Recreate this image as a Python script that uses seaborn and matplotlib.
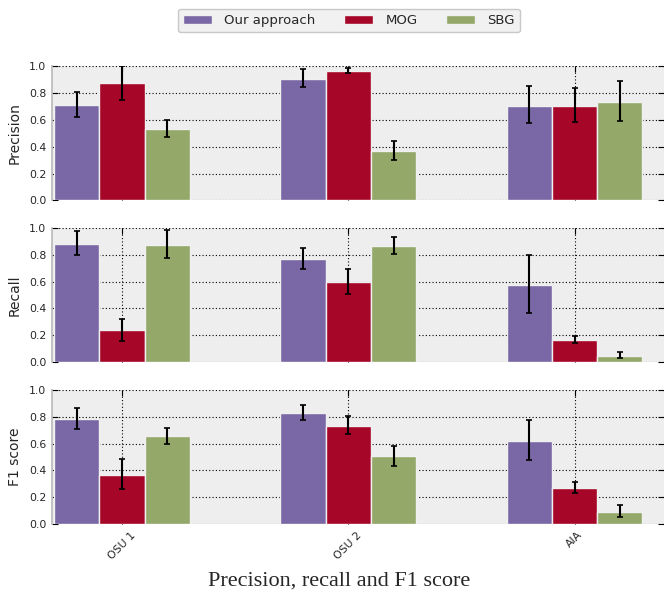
import pandas as pd
import seaborn as sns
import matplotlib.pyplot as plt
import numpy as np

datasets = ['OSU 1', 'OSU 2', 'AIA']
methods = ['Our approach', 'MOG', 'SBG']
metrics = ['Precision', 'Recall', 'F1 score']
colors = ['#7A68A6', '#A60628', '#94A869']

# mean values per metric -> method -> dataset
precision = {'Our approach': [0.71, 0.90, 0.705], 'MOG': [0.87, 0.96, 0.705], 'SBG': [0.527, 0.364, 0.73]}
recall = {'Our approach': [0.88, 0.765, 0.575], 'MOG': [0.237, 0.598, 0.163], 'SBG': [0.872, 0.862, 0.047]}
f1 = {'Our approach': [0.78, 0.827, 0.621], 'MOG': [0.366, 0.733, 0.27], 'SBG': [0.653, 0.507, 0.094]}

# error bar bounds (low, high)
precision_lo = {'Our approach': [0.621, 0.839, 0.572], 'MOG': [0.743, 0.943, 0.584], 'SBG': [0.47, 0.297, 0.587]}
precision_hi = {'Our approach': [0.807, 0.973, 0.847], 'MOG': [1.0, 0.985, 0.837], 'SBG': [0.594, 0.438, 0.886]}
recall_lo = {'Our approach': [0.795, 0.69, 0.37], 'MOG': [0.158, 0.51, 0.143], 'SBG': [0.773, 0.805, 0.032]}
recall_hi = {'Our approach': [0.975, 0.85, 0.795], 'MOG': [0.323, 0.69, 0.195], 'SBG': [0.98, 0.928, 0.077]}
f1_lo = {'Our approach': [0.705, 0.775, 0.478], 'MOG': [0.262, 0.668, 0.23], 'SBG': [0.597, 0.436, 0.054]}
f1_hi = {'Our approach': [0.861, 0.889, 0.772], 'MOG': [0.483, 0.807, 0.317], 'SBG': [0.718, 0.584, 0.144]}

panels = [(precision, precision_lo, precision_hi),
          (recall, recall_lo, recall_hi),
          (f1, f1_lo, f1_hi)]

sns.set_theme(style="white")
plt.rcParams['font.family'] = ['DejaVu Sans']

fig = plt.figure(figsize=(6.64, 5.93), dpi=100)
bottoms = [0.662, 0.389, 0.1158]
axes = []
for i, (vals, lo, hi) in enumerate(panels):
    ax = fig.add_axes([0.078, bottoms[i], 0.922, 0.227])
    axes.append(ax)
    df = pd.DataFrame([(d, m, vals[m][j]) for m in methods for j, d in enumerate(datasets)],
                      columns=['dataset', 'method', 'value'])
    sns.barplot(data=df, x='dataset', y='value', hue='method', order=datasets, hue_order=methods,
                palette=colors, width=0.6, edgecolor='#f0f0f0', linewidth=1, errorbar=None,
                saturation=1, ax=ax)
    # error bars at the centre of each bar
    for m, cont in zip(methods, ax.containers):
        xs = [p.get_x() + p.get_width() / 2 for p in cont.patches]
        v = np.array(vals[m])
        yerr = [v - np.array(lo[m]), np.array(hi[m]) - v]
        ax.errorbar(xs, v, yerr=yerr, fmt='none', ecolor='black', elinewidth=1.5,
                    capsize=2.5, capthick=1.2, zorder=5)
    ax.set_facecolor('#EEEEEE')
    ax.set_ylim(0, 1.0)
    ax.set_xlim(-0.31, 2.395)
    ax.set_yticks(np.arange(0, 1.01, 0.2))
    ax.set_yticklabels(['%.1f' % t for t in np.arange(0, 1.01, 0.2)], fontsize=7.8)
    ax.grid(True, color='black', linestyle=(0, (1, 2)), linewidth=0.8)
    ax.set_axisbelow(True)
    for s in ['top', 'right', 'bottom']:
        ax.spines[s].set_visible(False)
    ax.spines['left'].set_color('#bcbcbc')
    ax.set_ylabel(metrics[i], fontsize=10, labelpad=5)
    ax.set_xlabel('')
    ax.tick_params(axis='both', direction='in', length=4, width=0.8, color='black', pad=4,
                   left=True, right=True, bottom=True, top=True)
    handles, labels = ax.get_legend_handles_labels()
    ax.get_legend().remove()
    if i < 2:
        ax.set_xticklabels([])
    else:
        ax.set_xticks(range(len(datasets)))
        ax.set_xticklabels(datasets, rotation=45, ha='center', fontsize=7.8)

fig.legend(handles, labels, loc='center', bbox_to_anchor=(349 / 664, 1 - 20.5 / 593), ncol=3,
           fontsize=9.5, frameon=True, facecolor='#EEEEEE', edgecolor='#bcbcbc', fancybox=True,
           handlelength=2.2, handleheight=0.6, columnspacing=2.2, handletextpad=0.9, borderpad=0.4)
fig.text(339 / 664, 1 - 581 / 593, 'Precision, recall and F1 score', ha='center', va='center',
         fontsize=16, family=['Liberation Serif'])

plt.savefig('out.png', dpi=100)
